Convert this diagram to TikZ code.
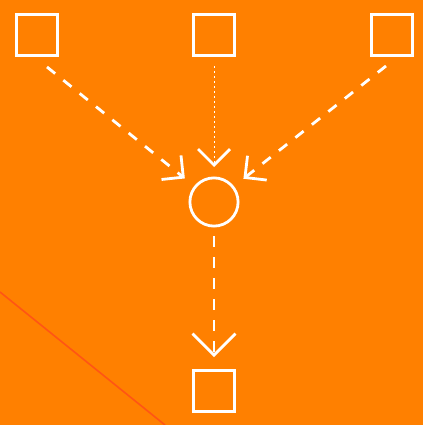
\documentclass[tikz,border=0pt]{standalone}
\usetikzlibrary{arrows.meta}
\definecolor{bgorange}{HTML}{FF8000}
\definecolor{redline}{HTML}{FF5514}
\begin{document}
\begin{tikzpicture}[x=1pt,y=-1pt,
  box/.style={draw=white,line width=2.8pt,minimum size=41.2pt,inner sep=0pt,rectangle},
  ring/.style={draw=white,line width=2.8pt,minimum size=48.2pt,inner sep=0pt,circle},
  smalltip/.style={arrows={-Straight Barb[length=15.5pt,width=31pt,line width=2.8pt]}},
  midtip/.style={arrows={-Straight Barb[length=16pt,width=32pt,line width=2.8pt]}},
  bigtip/.style={arrows={-Straight Barb[length=21.5pt,width=43pt,line width=2.8pt]}},
  dashline/.style={white,line width=2.8pt,dash pattern=on 10.5pt off 10.5pt},
  dotline/.style={white,line width=1pt,dash pattern=on 2.2pt off 2.8pt}]
\fill[bgorange] (0,0) rectangle (423,425);
\useasboundingbox (0,0) rectangle (423,425);
\draw[redline,line width=1.6pt] (0,292) -- (165,425);
\node[box] (tl) at (37,35) {};
\node[box] (tm) at (214,35) {};
\node[box] (tr) at (392,35) {};
\node[ring] (c) at (214,202) {};
\node[box] (b) at (214,391) {};
\coordinate (sl) at (47,67);
\coordinate (sr) at (386,66);
\draw[dashline,smalltip,shorten >=12pt] (sl) -- (c);
\draw[dashline,smalltip,shorten >=12pt] (sr) -- (c);
\draw[dotline,midtip,shorten <=9pt,shorten >=9.5pt] (tm) -- (c);
\draw[dashline,bigtip,shorten <=8.5pt,shorten >=12pt] (c) -- (b);
\end{tikzpicture}
\end{document}
